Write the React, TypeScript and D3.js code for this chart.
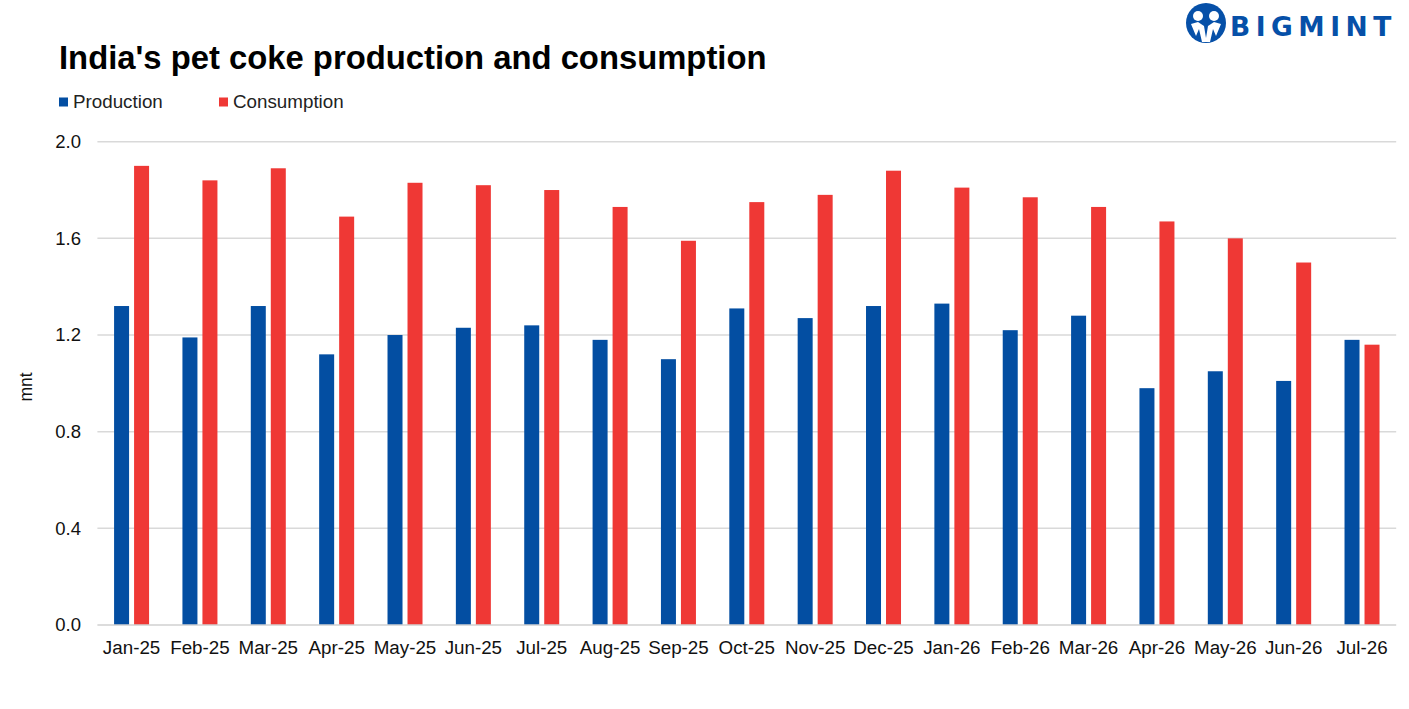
import React from "react";
import * as d3 from "d3";

const months = [
  "Jan-25", "Feb-25", "Mar-25", "Apr-25", "May-25", "Jun-25", "Jul-25",
  "Aug-25", "Sep-25", "Oct-25", "Nov-25", "Dec-25", "Jan-26", "Feb-26",
  "Mar-26", "Apr-26", "May-26", "Jun-26", "Jul-26",
];

const production = [
  1.32, 1.19, 1.32, 1.12, 1.2, 1.23, 1.24, 1.18, 1.1, 1.31,
  1.27, 1.32, 1.33, 1.22, 1.28, 0.98, 1.05, 1.01, 1.18,
];

const consumption = [
  1.9, 1.84, 1.89, 1.69, 1.83, 1.82, 1.8, 1.73, 1.59, 1.75,
  1.78, 1.88, 1.81, 1.77, 1.73, 1.67, 1.6, 1.5, 1.16,
];

const yTicks = [0, 0.4, 0.8, 1.2, 1.6, 2.0];

const seriesNames = ["Production", "Consumption"];
const colors = ["#034EA2", "#EF3835"];

const W = 1409;
const H = 709;
const font = "'Liberation Sans', Arial, sans-serif";

export default function App() {
  const left = 97.4;
  const right = 1396.2;
  const top = 141.7;
  const bottom = 625;

  const x = d3.scaleBand<string>().domain(months).range([left, right]).padding(0);
  const y = d3.scaleLinear().domain([0, 2]).range([bottom, top]);

  const barW = 15;
  const gap = 5;

  return (
    <svg
      width={W}
      height={H}
      style={{ position: "absolute", left: 0, top: 0, background: "#fff" }}
      fontFamily={font}
    >
      {/* logo */}
      <g>
        <circle cx={1206} cy={23} r={20} fill="#0650A8" />
        <circle cx={1198} cy={16} r={5} fill="#fff" />
        <circle cx={1214} cy={16} r={5} fill="#fff" />
        <path
          d="M1191,24 L1198,22 L1204,26 L1206,38 L1208,26 L1214,22 L1221,24 L1216,36 L1213,29 L1210,42 L1202,42 L1199,29 L1196,36 Z"
          fill="#fff"
        />
        <text
          x={1230}
          y={36}
          fontSize={26.5}
          fontWeight={900}
          fill="#0650A8"
          letterSpacing={5.5}
          fontFamily="'DejaVu Sans', sans-serif"
        >
          BIGMINT
        </text>
      </g>

      <text x={59} y={69} fontSize={32.8} fontWeight="bold" fill="#000">
        India's pet coke production and consumption
      </text>

      {/* legend */}
      {seriesNames.map((name, i) => {
        const lx = i === 0 ? 59 : 219;
        return (
          <g key={name}>
            <rect x={lx} y={97.5} width={9} height={9} fill={colors[i]} />
            <text x={lx + 14} y={108} fontSize={18.8} fill="#222">
              {name}
            </text>
          </g>
        );
      })}

      {/* grid */}
      {yTicks.map((t) => (
        <g key={t}>
          {t !== 0 && (
            <line x1={left} x2={right} y1={y(t)} y2={y(t)} stroke="#D9D9D9" strokeWidth={1.5} />
          )}
          <text x={81} y={y(t)} dy="0.35em" textAnchor="end" fontSize={18.5} fill="#111">
            {t.toFixed(1)}
          </text>
        </g>
      ))}

      <text
        transform={`translate(32,387) rotate(-90)`}
        textAnchor="middle"
        fontSize={17.5}
        fill="#111"
      >
        mnt
      </text>

      {/* bars */}
      {months.map((m, i) => {
        const cx = (x(m) ?? 0) + x.bandwidth() / 2;
        return (
          <g key={m}>
            <rect
              x={cx - gap / 2 - barW}
              y={y(production[i])}
              width={barW}
              height={bottom - y(production[i])}
              fill={colors[0]}
            />
            <rect
              x={cx + gap / 2}
              y={y(consumption[i])}
              width={barW}
              height={bottom - y(consumption[i])}
              fill={colors[1]}
            />
            <text x={cx} y={653.5} textAnchor="middle" fontSize={18.8} fill="#111">
              {m}
            </text>
          </g>
        );
      })}

      <line x1={left} x2={right} y1={bottom} y2={bottom} stroke="#D0D0D0" strokeWidth={1.5} />
    </svg>
  );
}
